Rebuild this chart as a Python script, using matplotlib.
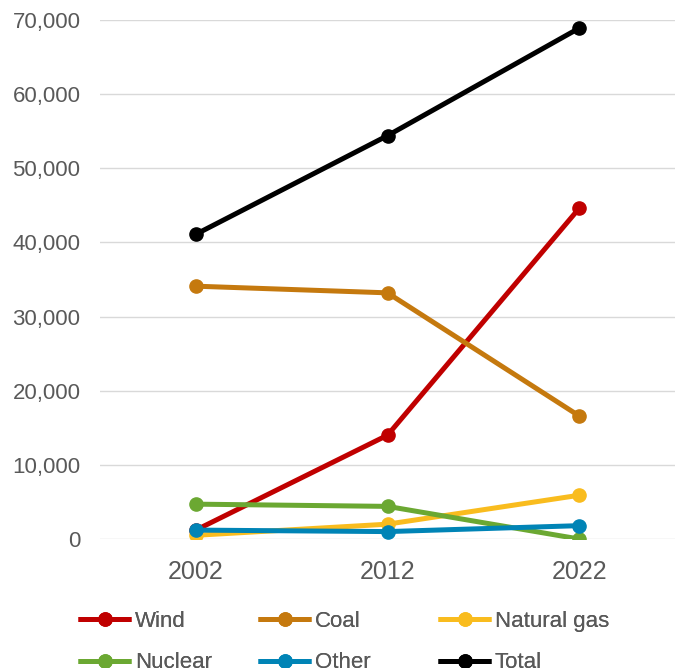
import matplotlib.pyplot as plt
from matplotlib.ticker import FuncFormatter

plt.rcParams['font.family'] = ['Liberation Sans', 'DejaVu Sans']

years = ["2002", "2012", "2022"]
wind = [1200, 14000, 44600]
coal = [34100, 33200, 16600]
natural_gas = [500, 2000, 5900]
nuclear = [4700, 4400, 0]
other = [1200, 1000, 1800]
total = [41100, 54400, 68900]

series = [
    ("Wind", wind, "#C00000"),
    ("Coal", coal, "#C5790E"),
    ("Natural gas", natural_gas, "#F9BC1E"),
    ("Nuclear", nuclear, "#6BA832"),
    ("Other", other, "#0084B6"),
    ("Total", total, "#000000"),
]

fig = plt.figure(figsize=(6.75, 6.68), dpi=100)
ax = fig.add_axes([100 / 675, (668 - 539) / 668, 575 / 675, 519 / 668])

x = list(range(len(years)))
handles = []
for name, vals, col in series:
    h, = ax.plot(x, vals, color=col, lw=3.6, marker="o", ms=9.5, label=name,
                 solid_capstyle="butt", zorder=3)
    handles.append(h)

ax.set_xlim(-0.5, 2.5)
ax.set_ylim(0, 70000)
ax.set_yticks(range(0, 70001, 10000))
ax.yaxis.set_major_formatter(FuncFormatter(lambda v, p: "{:,.0f}".format(v)))
ax.set_xticks(x)
ax.set_xticklabels(years)
ax.grid(axis="y", color="#D9D9D9", lw=1, zorder=0)
ax.set_axisbelow(True)
for s in ax.spines.values():
    s.set_visible(False)
ax.tick_params(length=0, colors="#595959")
ax.tick_params(axis="y", labelsize=16, pad=14)
ax.tick_params(axis="x", labelsize=18, pad=15)

# legend: three columns, entries laid out row by row
col_x = [78, 258, 438]
for i, cx in enumerate(col_x):
    leg = fig.legend(handles=[handles[i], handles[i + 3]], loc="upper left",
                     bbox_to_anchor=(cx / 675, 1 - 611 / 668),
                     frameon=False, fontsize=16, handlelength=2.4,
                     handletextpad=0.15, labelspacing=0.92,
                     labelcolor="#595959", borderpad=0, borderaxespad=0)
    fig.add_artist(leg)

fig.savefig("out.png", dpi=100)
